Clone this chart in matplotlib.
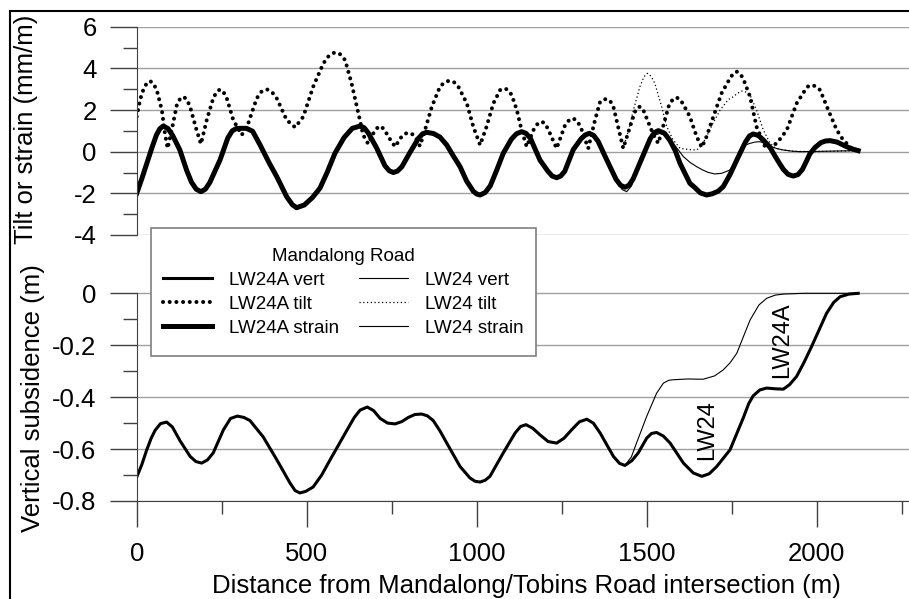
import matplotlib
matplotlib.use('Agg')
import matplotlib.pyplot as plt
from matplotlib.patches import Rectangle
from matplotlib.ticker import MultipleLocator, FixedLocator, FormatStrFormatter

plt.rcParams['font.family'] = ['Liberation Sans', 'DejaVu Sans']
plt.rcParams['axes.unicode_minus'] = False

# LW24A vertical subsidence (m)
vert_a_x = [0, 15, 29, 42, 54, 70, 88, 105, 127, 157, 174, 191, 208, 225, 255, 276,
            296, 315, 333, 372, 412, 451, 466, 480, 497, 519, 544, 569, 618, 640,
            657, 678, 697, 716, 738, 760, 780, 799, 818, 838, 855, 872, 892, 912,
            951, 980, 995, 1010, 1025, 1039, 1078, 1113, 1129, 1145, 1165, 1186,
            1210, 1235, 1257, 1279, 1302, 1324, 1343, 1363, 1402, 1420, 1436, 1456,
            1475, 1500, 1514, 1529, 1549, 1569, 1608, 1637, 1662, 1684, 1706, 1745,
            1784, 1800, 1813, 1833, 1853, 1880, 1902, 1920, 1941, 1962, 1985, 2008,
            2029, 2050, 2069, 2095, 2122]
vert_a_y = [-0.708, -0.66, -0.605, -0.56, -0.528, -0.502, -0.496, -0.515, -0.567,
            -0.628, -0.648, -0.654, -0.642, -0.615, -0.526, -0.482, -0.473, -0.478,
            -0.49, -0.553, -0.641, -0.731, -0.76, -0.769, -0.763, -0.746, -0.7,
            -0.641, -0.528, -0.478, -0.45, -0.438, -0.452, -0.482, -0.5, -0.503,
            -0.494, -0.478, -0.467, -0.465, -0.472, -0.49, -0.53, -0.577, -0.667,
            -0.711, -0.724, -0.727, -0.72, -0.705, -0.615, -0.538, -0.513, -0.506,
            -0.52, -0.545, -0.571, -0.577, -0.558, -0.526, -0.495, -0.485, -0.5,
            -0.538, -0.628, -0.655, -0.663, -0.645, -0.615, -0.558, -0.54, -0.536,
            -0.55, -0.577, -0.654, -0.692, -0.705, -0.695, -0.667, -0.603, -0.48,
            -0.425, -0.395, -0.372, -0.365, -0.368, -0.369, -0.352, -0.32, -0.268,
            -0.205, -0.138, -0.077, -0.035, -0.013, -0.003, 0.0]

# LW24 vertical subsidence (same as LW24A before ~1436 m)
vert_b_x = [1436, 1455, 1470, 1500, 1529, 1549, 1565, 1578, 1620, 1666, 1700, 1725,
            1745, 1765, 1785, 1804, 1830, 1853, 1878, 1902, 1960, 2122]
vert_b_y = [-0.663, -0.63, -0.577, -0.474, -0.385, -0.346, -0.335, -0.333, -0.330,
            -0.331, -0.318, -0.295, -0.268, -0.231, -0.165, -0.103, -0.045, -0.019,
            -0.007, -0.003, 0.0, 0.0]

# LW24A strain (mm/m)
strain_a_x = [0, 15, 30, 45, 58, 68, 78, 92, 106, 127, 147, 161, 175, 189, 202, 215,
              245, 268, 281, 294, 323, 341, 363, 390, 412, 441, 458, 470, 493, 517,
              539, 560, 583, 610, 634, 657, 669, 681, 705, 730, 743, 755, 767, 780,
              804, 829, 841, 853, 873, 892, 912, 931, 951, 970, 990, 1000, 1010, 1025,
              1040, 1059, 1078, 1102, 1117, 1132, 1145, 1158, 1186, 1209, 1222, 1235,
              1247, 1259, 1284, 1307, 1319, 1331, 1344, 1357, 1383, 1410, 1423, 1436,
              1448, 1460, 1485, 1510, 1522, 1534, 1552, 1568, 1584, 1598, 1627, 1640,
              1658, 1676, 1693, 1710, 1725, 1745, 1765, 1790, 1802, 1813, 1828, 1843,
              1863, 1877, 1892, 1902, 1916, 1931, 1945, 1958, 1970, 1980, 1995, 2012,
              2025, 2039, 2060, 2088, 2105, 2122]
strain_a_y = [-2.0, -1.3, -0.55, 0.2, 0.8, 1.1, 1.23, 1.11, 0.77, 0.08, -0.9, -1.46,
              -1.8, -1.92, -1.8, -1.48, -0.4, 0.66, 1.0, 1.12, 1.12, 0.98, 0.32, -0.55,
              -1.2, -2.16, -2.55, -2.69, -2.56, -2.2, -1.75, -1.0, -0.08, 0.68, 1.12,
              1.23, 1.15, 0.9, 0.2, -0.67, -0.92, -1.0, -0.93, -0.72, -0.03, 0.65,
              0.86, 0.93, 0.87, 0.7, 0.32, -0.2, -0.72, -1.4, -1.9, -2.03, -2.08,
              -1.96, -1.64, -0.88, -0.08, 0.6, 0.86, 0.96, 0.88, 0.64, -0.4, -0.93,
              -1.17, -1.25, -1.17, -0.94, 0.1, 0.62, 0.8, 0.88, 0.78, 0.5, -0.41,
              -1.33, -1.61, -1.71, -1.61, -1.31, -0.35, 0.61, 0.91, 1.01, 0.89, 0.55,
              0.05, -0.56, -1.52, -1.7, -1.98, -2.08, -2.02, -1.9, -1.68, -1.1, -0.4,
              0.45, 0.75, 0.85, 0.78, 0.56, 0.2, -0.2, -0.6, -0.85, -1.09, -1.17,
              -1.1, -0.85, -0.45, -0.1, 0.2, 0.43, 0.51, 0.53, 0.46, 0.24, 0.13, 0.05]

# LW24 strain (same as LW24A before ~1382 m)
strain_b_x = [1383, 1410, 1428, 1441, 1455, 1470, 1480, 1495, 1510, 1525, 1539, 1555,
              1569, 1590, 1608, 1628, 1647, 1665, 1680, 1700, 1720, 1745, 1760, 1774,
              1790, 1804, 1818, 1833, 1848, 1863, 1882, 1902, 1925, 1950, 2122]
strain_b_y = [-0.41, -1.4, -1.82, -1.92, -1.65, -1.05, -0.56, 0.05, 0.56, 0.8, 0.88,
              0.78, 0.56, 0.15, -0.24, -0.52, -0.72, -0.88, -0.99, -1.07, -1.04,
              -0.88, -0.45, 0.08, 0.32, 0.4, 0.46, 0.48, 0.4, 0.27, 0.15, 0.08, 0.03,
              0.0, 0.05]

# LW24A tilt (mm/m)
tilt_a_x = [0, 10, 20, 30, 39, 48, 59, 74, 83, 91, 103, 118, 127, 137, 147, 157, 176,
            189, 206, 225, 235, 245, 255, 265, 284, 309, 328, 353, 367, 382, 397, 412,
            441, 466, 490, 519, 549, 566, 583, 598, 613, 632, 652, 666, 681, 696, 706,
            716, 728, 740, 760, 779, 789, 799, 809, 819, 833, 848, 868, 892, 906, 920,
            933, 946, 971, 990, 1010, 1029, 1049, 1069, 1083, 1093, 1103, 1118, 1132,
            1147, 1167, 1180, 1191, 1201, 1211, 1235, 1260, 1272, 1284, 1297, 1309,
            1328, 1348, 1363, 1372, 1382, 1392, 1402, 1416, 1431, 1451, 1465, 1472,
            1480, 1490, 1500, 1520, 1534, 1548, 1565, 1577, 1588, 1599, 1610, 1627,
            1647, 1662, 1676, 1696, 1720, 1745, 1755, 1765, 1775, 1784, 1804, 1823,
            1848, 1863, 1885, 1912, 1941, 1966, 1975, 1985, 1997, 2010, 2034, 2059,
            2078, 2103, 2122]
tilt_a_y = [1.68, 2.5, 3.0, 3.3, 3.39, 3.3, 2.96, 2.0, 0.88, 0.16, 1.04, 2.24, 2.52,
            2.64, 2.52, 2.16, 1.04, 0.37, 1.52, 2.56, 2.87, 2.99, 2.87, 2.56, 1.52,
            0.8, 1.36, 2.56, 2.88, 3.0, 2.88, 2.56, 1.52, 1.17, 1.68, 3.12, 4.24,
            4.62, 4.77, 4.68, 4.4, 3.28, 1.84, 0.8, 0.37, 0.88, 1.12, 1.23, 1.08,
            0.72, 0.24, 0.72, 0.86, 0.91, 0.86, 0.72, 0.27, 1.04, 2.16, 3.12, 3.34,
            3.41, 3.34, 3.12, 2.32, 1.2, 0.32, 1.2, 2.32, 2.96, 3.04, 2.95, 2.72,
            2.0, 1.04, 0.24, 1.04, 1.36, 1.44, 1.36, 1.04, 0.16, 1.28, 1.52, 1.6,
            1.45, 1.04, 0.16, 1.52, 2.4, 2.5, 2.53, 2.45, 2.16, 1.2, 0.16, 1.2, 1.9,
            2.1, 2.16, 2.0, 1.6, 0.8, 0.4, 1.2, 2.2, 2.52, 2.6, 2.5, 2.2, 1.68, 0.72,
            0.21, 0.72, 1.68, 2.8, 3.52, 3.76, 3.84, 3.74, 3.5, 2.64, 1.2, 0.24,
            0.16, 0.45, 1.04, 2.32, 2.96, 3.14, 3.2, 3.14, 2.96, 2.0, 1.04, 0.56,
            0.16, 0.05]

# LW24 tilt (same as LW24A before ~1431 m)
tilt_b_x = [1431, 1446, 1461, 1480, 1492, 1502, 1513, 1524, 1544, 1559, 1578, 1598,
            1625, 1647, 1662, 1676, 1696, 1716, 1740, 1755, 1767, 1779, 1792, 1804,
            1823, 1843, 1863, 1877, 1892, 1930, 1990, 2122]
tilt_b_y = [0.16, 1.0, 2.0, 3.12, 3.6, 3.76, 3.62, 3.28, 2.16, 1.2, 0.56, 0.16, 0.1,
            0.08, 0.3, 0.72, 1.4, 2.0, 2.5, 2.64, 2.8, 2.91, 2.86, 2.72, 2.0, 1.04,
            0.4, 0.2, 0.11, 0.02, 0.0, 0.05]

legend_labels = ['LW24A vert', 'LW24A tilt', 'LW24A strain',
                 'LW24 vert', 'LW24 tilt', 'LW24 strain']

W, H = 909, 599
fig = plt.figure(figsize=(W / 100, H / 100), dpi=100)


def box(l, t, r, b):
    return [l / W, 1 - b / H, (r - l) / W, (b - t) / H]


ax1 = fig.add_axes(box(136.7, 26.7, 918.7, 235))
ax2 = fig.add_axes(box(136.7, 235, 918.7, 501))
for ax in (ax1, ax2):
    ax.set_facecolor('none')
    ax.set_xlim(0, 2300)
    for s in ('top', 'right'):
        ax.spines[s].set_visible(False)
    ax.spines['left'].set_color('#404040')
    ax.spines['bottom'].set_color('#404040')
    ax.grid(axis='y', which='major', color='#a0a0a0', lw=1)
    ax.set_axisbelow(True)
    ax.yaxis.set_major_formatter(FormatStrFormatter('%g'))
    ax.tick_params(axis='y', which='major', length=19.4, width=1, color='#404040',
                   pad=9.5, labelsize=18.5)
    ax.tick_params(axis='y', which='minor', length=10, width=1, color='#404040')

# top: tilt and strain
ax1.set_ylim(-4, 6)
ax1.yaxis.set_major_locator(MultipleLocator(2))
ax1.yaxis.set_minor_locator(MultipleLocator(1))
ax1.spines['bottom'].set_visible(False)
ax1.tick_params(axis='x', which='both', bottom=False, labelbottom=False)

l_strain_b, = ax1.plot(strain_b_x, strain_b_y, color='black', lw=0.8)
l_tilt_b, = ax1.plot(tilt_b_x, tilt_b_y, color='black', lw=0.9, ls=(0, (1, 2)))
l_strain_a, = ax1.plot(strain_a_x, strain_a_y, color='black', lw=3.6)
l_tilt_a, = ax1.plot(tilt_a_x, tilt_a_y, color='black', lw=2.9, ls=(0, (0.01, 1.65)),
                     dash_capstyle='round')

# bottom: vertical subsidence
ax2.set_ylim(-0.8, 0.2246)
ax2.yaxis.set_major_locator(FixedLocator([-0.8, -0.6, -0.4, -0.2, 0]))
ax2.yaxis.set_minor_locator(FixedLocator([-0.7, -0.5, -0.3, -0.1]))
ax2.spines['left'].set_bounds(-0.8, 0)
ax2.xaxis.set_major_locator(MultipleLocator(500))
ax2.xaxis.set_minor_locator(MultipleLocator(250))
ax2.tick_params(axis='x', which='major', length=18.7, width=1, color='#404040',
                pad=11, labelsize=18.5)
ax2.tick_params(axis='x', which='minor', length=9.4, width=1, color='#404040')

l_vert_b, = ax2.plot(vert_b_x, vert_b_y, color='black', lw=0.8)
l_vert_a, = ax2.plot(vert_a_x, vert_a_y, color='black', lw=2.2)

ax2.text(1679, -0.527, 'LW24', rotation=90, ha='center', va='center', fontsize=17)
ax2.text(1897, -0.18, 'LW24A', rotation=90, ha='center', va='center', fontsize=17)

# axis labels
fig.text(33 / W, 1 - 129 / H, 'Tilt or strain (mm/m)', rotation=90,
         rotation_mode='anchor', ha='center', va='baseline', fontsize=18.5)
fig.text(40 / W, 1 - 398 / H, 'Vertical subsidence (m)', rotation=90,
         rotation_mode='anchor', ha='center', va='baseline', fontsize=18.5)
fig.text(526 / W, 1 - 593 / H, 'Distance from Mandalong/Tobins Road intersection (m)',
         ha='center', va='baseline', fontsize=18.5)

# legend box, title and entries
fig.add_artist(Rectangle((150.7 / W, 1 - 356 / H), (536 - 150.7) / W, (356 - 228) / H,
                         transform=fig.transFigure, facecolor='white',
                         edgecolor='#7f7f7f', lw=1.2, zorder=4))
fig.text(343 / W, 1 - 256 / H, 'Mandalong Road', ha='center', va='center',
         fontsize=13.5, zorder=6)
fig.legend([l_vert_a, l_tilt_a, l_strain_a, l_vert_b, l_tilt_b, l_strain_b],
           legend_labels, loc='upper left',
           bbox_to_anchor=(163 / W, 1 - 271.5 / H), frameon=False, ncol=2,
           fontsize=13.5, handlelength=2.6, handletextpad=0.9,
           columnspacing=1.1, labelspacing=0.37, borderpad=0, borderaxespad=0)

# outer frame
fig.add_artist(Rectangle((10 / W, -0.1), 1.2, 1 - 11 / H + 0.1, fill=False,
                         edgecolor='black', lw=1.5, transform=fig.transFigure,
                         clip_on=False))

fig.savefig('out.png', dpi=100)
